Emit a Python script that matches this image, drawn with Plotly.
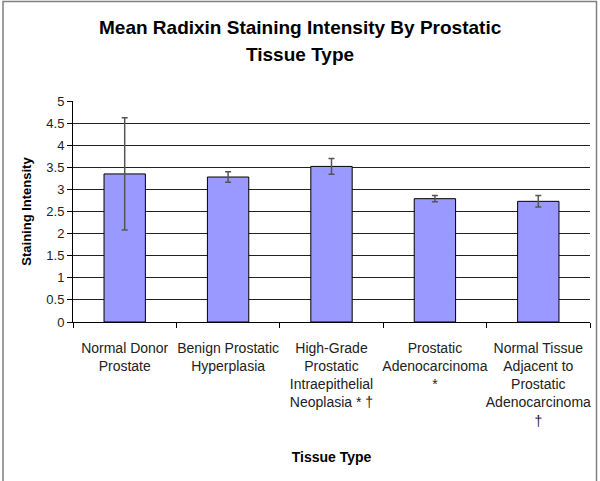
import plotly.graph_objects as go

categories = [
    "Normal Donor<br>Prostate",
    "Benign Prostatic<br>Hyperplasia",
    "High-Grade<br>Prostatic<br>Intraepithelial<br>Neoplasia * †",
    "Prostatic<br>Adenocarcinoma<br>*",
    "Normal Tissue<br>Adjacent to<br>Prostatic<br>Adenocarcinoma<br>†",
]
means = [3.35, 3.28, 3.52, 2.79, 2.73]
errors = [1.27, 0.12, 0.18, 0.07, 0.13]
y_ticks = [0, 0.5, 1, 1.5, 2, 2.5, 3, 3.5, 4, 4.5, 5]
title_lines = ["Mean Radixin Staining Intensity By Prostatic", "Tissue Type"]

W, H = 600, 481
L, R, T, B = 73, 10, 101, 159
pw, ph = W - L - R, H - T - B

font_family = "Arial, Liberation Sans, sans-serif"

fig = go.Figure(
    go.Bar(
        x=categories,
        y=means,
        width=0.4,
        marker=dict(color="#9999FF", line=dict(color="#000000", width=1)),
        error_y=dict(type="data", array=errors, visible=True,
                     color="#555555", thickness=1.5, width=3),
        hoverinfo="skip",
    )
)

def px_x(px):
    return (px - L) / pw

def px_y(py):
    return (H - B - py) / ph

fig.add_shape(
    type="rect", xref="paper", yref="paper",
    x0=px_x(3), x1=px_x(596.5),
    y0=px_y(482), y1=px_y(1.5),
    line=dict(color="#808080", width=1.5), fillcolor="rgba(0,0,0,0)",
    layer="above",
)

for line, cy in zip(title_lines, [27, 54]):
    fig.add_annotation(
        text=f"<b>{line}</b>", xref="paper", yref="paper",
        x=px_x(300), y=px_y(cy), xanchor="center", yanchor="middle",
        showarrow=False, font=dict(size=19, family=font_family, color="#000000"),
    )

fig.update_layout(
    width=W, height=H,
    margin=dict(l=L, r=R, t=T, b=B, autoexpand=False),
    paper_bgcolor="white", plot_bgcolor="white",
    font=dict(family=font_family, size=12, color="#000000"),
    showlegend=False,
    bargap=0.6,
)

fig.update_xaxes(
    automargin=False, tickangle=0,
    showline=True, linecolor="#000000", linewidth=1,
    ticks="outside", tickson="boundaries", ticklen=5, tickcolor="#000000",
    tickfont=dict(size=14, color="#222222"),
    ticklabelstandoff=13,
    title=dict(text="<b>Tissue Type</b>", font=dict(size=14), standoff=24),
    showgrid=False,
)
fig.update_yaxes(
    automargin=False,
    range=[0, 5], tickvals=y_ticks,
    ticktext=[f"{v:g}" for v in y_ticks],
    showline=True, linecolor="#000000", linewidth=1,
    ticks="outside", ticklen=5, tickcolor="#000000",
    tickfont=dict(size=13, color="#222222"),
    showgrid=True, gridcolor="#222222", gridwidth=1,
    zeroline=False,
    title=dict(text="<b>Staining Intensity</b>", font=dict(size=13), standoff=11),
)

fig.write_html("out.html", post_script="document.body.style.margin='0';",
               config={"displayModeBar": False})
